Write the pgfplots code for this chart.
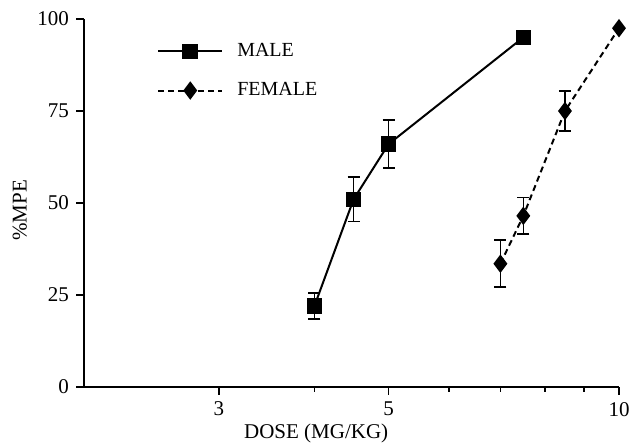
\documentclass[border=0pt]{standalone}
\usepackage{fontspec}
\setmainfont{Liberation Serif}
\usepackage{pgfplots}
\pgfplotsset{compat=1.18}
\begin{document}
\begin{tikzpicture}
\begin{axis}[
  scale only axis, width=267.5pt, height=184pt,
  xmode=log, xmin=2, xmax=10, ymin=0, ymax=100,
  axis x line*=bottom, axis y line*=left,
  xtick={3,5,10}, xticklabels={3,5,10}, minor xtick={4,6,7,8,9},
  ytick={0,25,50,75,100}, yticklabels={0,25,50,75,100},
  tick align=outside, major tick length=4pt, minor tick length=2.5pt,
  tick style={black, line width=0.8pt},
  axis line style={line width=1pt},
  font=\fontsize{10.5}{12}\selectfont,
  /pgf/number format/assume math mode=true,
  xlabel={DOSE (MG/KG)}, ylabel={\%MPE},
  xlabel style={at={(axis description cs:0.434,-0.125)}, anchor=center},
  ylabel style={at={(axis description cs:-0.12,0.48)}, anchor=center},
  legend style={at={(axis description cs:0.125,0.957)}, anchor=north west, draw=none, fill=none, row sep=7.5pt, font=\fontsize{10}{12}\selectfont},
  legend cell align=left,
  legend image code/.code={\draw[mark repeat=2,mark phase=2] plot coordinates {(0pt,0pt) (16pt,0pt) (32pt,0pt)}; \path (37pt,0pt);},
]
\addplot[black, line width=1pt, mark=square*, mark size=3.4pt, mark options={solid},
  error bars/.cd, y dir=both, y explicit,
  error bar style={line width=0.8pt, solid},
  error mark options={rotate=90, mark size=3pt, line width=0.8pt}]
  table[x=x, y=y, y error=e] {
x y e
4 22 3.5
4.5 51 6
5 66 6.5
7.5 95 0
};
\addlegendentry{MALE}
\addplot[black, line width=1pt, densely dashed, mark=diamond*, mark size=3.8pt, mark options={solid},
  error bars/.cd, y dir=both, y explicit,
  error bar style={line width=0.8pt, solid},
  error mark options={rotate=90, mark size=3pt, line width=0.8pt}]
  table[x=x, y=y, y error=e] {
x y e
7 33.5 6.4
7.5 46.5 5
8.5 75 5.5
10 97.5 0
};
\addlegendentry{FEMALE}
\end{axis}
\pgfresetboundingbox
\path (-42pt,-30.5pt) rectangle (274pt,193.5pt);
\end{tikzpicture}
\end{document}
